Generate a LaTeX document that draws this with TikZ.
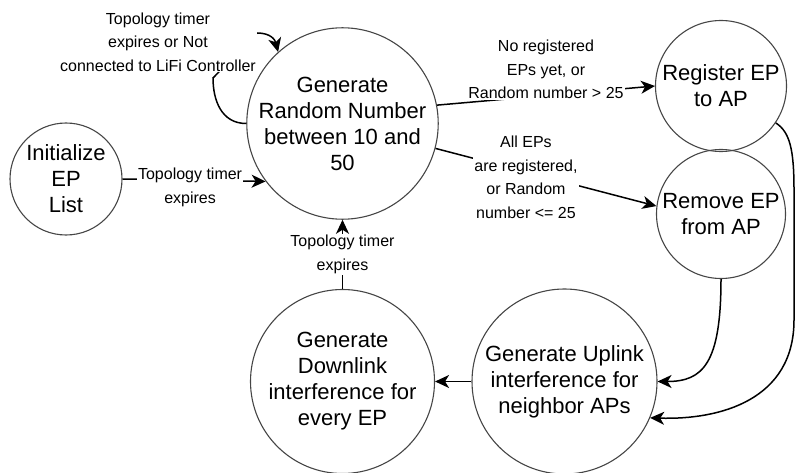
\documentclass[tikz,border=0pt]{standalone}
\usepackage{fontspec}
\setmainfont{Liberation Sans}
\usetikzlibrary{arrows.meta}
\definecolor{stateborder}{RGB}{70,70,70}

\begin{document}
\begin{tikzpicture}[x=1pt,y=-1pt]

%
% Styles
%
\tikzstyle{state} = [circle,draw=stateborder,line width=1.1pt,inner sep=0pt,align=center,font=\fontsize{22}{26}\selectfont]
\tikzstyle{edge}  = [-{Stealth[length=14pt,width=13pt,inset=4pt]},line width=1.5pt]
\tikzstyle{cond}  = [fill=white,inner sep=1pt,align=center,font=\fontsize{16}{23.5}\selectfont]

\useasboundingbox (0,0) rectangle (795,473);

\node[state,minimum size=112pt] (init) at (   66,179)   {Initialize\\EP\\List};
\node[state,minimum size=186pt] (rand) at (342.5,123.5) {Generate\\Random Number\\between 10 and\\50};
\node[state,minimum size=131pt] (reg)  at (  721, 86)   {Register EP\\to AP};
\node[state,minimum size=129pt] (rem)  at (  721,214)   {Remove EP\\from AP};
\node[state,minimum size=185pt] (up)   at (564.5,381.5) {Generate Uplink\\interference for\\neighbor APs};
\node[state,minimum size=184pt] (down) at (342.5,381.5) {Generate\\Downlink\\interference for\\every EP};

\draw[edge] (init.east) -- node[cond,xshift=-4pt,yshift=-7pt] {Topology timer\\expires} (rand.217);
\draw[edge] (rand.180) .. controls +(-25,0) and +(0,22) .. (213,78) -- (257,33)
            .. controls +(14,0) and +(-3,-12) .. (rand.132);
\node[cond] (loopcond) at (158,42) {Topology timer\\expires or Not\\connected to LiFi Controller};
\draw[edge] (rand.11)  -- node[cond,yshift=26pt] {No registered\\EPs yet, or\\Random number > 25} (reg.west);
\draw[edge] (rand.-15) -- node[cond,xshift=-20pt] {All EPs\\are registered,\\or Random\\number <= 25} (rem.173);
\draw[edge] (reg.-34) .. controls (790,132) and (794,150) .. (794,190) -- (794,320)
            .. controls (794,400) and (720,420) .. (up.-23);
\draw[edge] (rem.south) .. controls +(0,85) and +(45,0) .. (up.east);
\draw[edge] (up.west) -- (down.east);
\draw[edge] (down.north) -- node[cond] {Topology timer\\expires} (rand.south);

\end{tikzpicture}
\end{document}
